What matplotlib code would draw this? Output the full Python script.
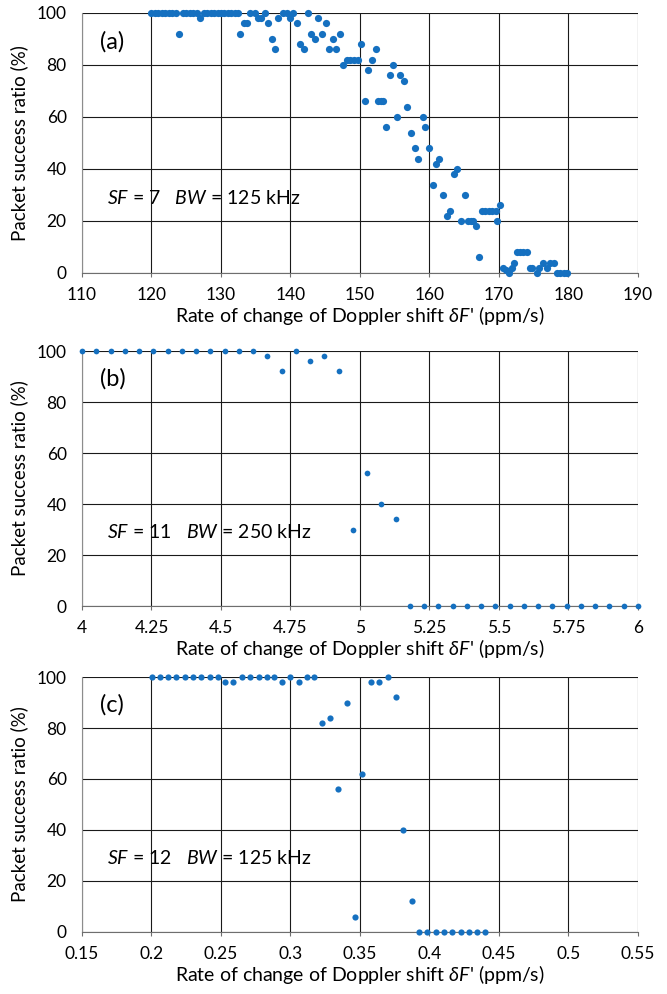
import matplotlib
matplotlib.use("Agg")
import matplotlib.pyplot as plt

plt.rcParams['font.family'] = ['Lato', 'DejaVu Sans']
plt.rcParams['mathtext.fontset'] = 'custom'
plt.rcParams['mathtext.rm'] = 'Lato'
plt.rcParams['mathtext.it'] = 'Lato:italic'
plt.rcParams['mathtext.fallback'] = 'stixsans'

# (a) SF = 7, BW = 125 kHz
x_a = [120.0, 120.5, 121.0, 121.5, 122.0, 122.5, 123.0, 123.5, 124.0, 124.5,
       125.0, 125.5, 126.0, 126.5, 127.0, 127.5, 128.0, 128.5, 129.0, 129.5,
       130.0, 130.5, 131.0, 131.5, 132.0, 132.5,
       132.7, 133.3, 133.8, 134.2, 134.9, 135.3, 135.8, 136.3, 136.8, 137.3,
       137.8, 138.2, 138.9, 139.5, 139.9, 140.3, 141.0, 141.4, 142.0, 142.5,
       143.0, 143.5, 144.0, 144.5, 145.1, 145.6, 146.1, 146.6, 147.1, 147.6,
       148.1, 148.6, 149.1, 149.7, 150.2, 150.7, 151.2, 151.7, 152.3, 152.6,
       153.0, 153.3, 153.7, 154.3, 154.8, 155.3, 155.7, 156.3, 156.8, 157.3,
       157.9, 158.4, 159.0, 159.4, 159.9, 160.5, 160.9, 161.4, 162.0, 162.5,
       163.0, 163.5, 164.0, 164.6, 165.1, 165.6, 166.0, 166.3, 166.7, 167.1,
       167.5, 168.0, 168.5, 169.0, 169.5, 169.7, 170.2, 170.6, 171.0, 171.4,
       171.9, 172.2, 172.6, 173.0, 173.5, 174.0, 174.4, 174.7, 175.4, 175.8,
       176.4, 176.9, 177.3, 177.9, 178.3, 178.8, 179.3, 179.8]
y_a = [100, 100, 100, 100, 100, 100, 100, 100, 92, 100,
       100, 100, 100, 100, 98, 100, 100, 100, 100, 100,
       100, 100, 100, 100, 100, 100,
       92, 96, 96, 100, 100, 98, 98, 100, 96, 90,
       86, 98, 100, 100, 98, 100, 96, 88, 86, 100,
       92, 90, 98, 92, 96, 86, 90, 86, 92, 80,
       82, 82, 82, 82, 88, 66, 78, 82, 86, 66,
       66, 66, 56, 76, 80, 60, 76, 74, 64, 54,
       48, 44, 60, 56, 48, 34, 42, 44, 30, 22,
       24, 38, 40, 20, 30, 20, 20, 20, 18, 6,
       24, 24, 24, 24, 24, 20, 26, 2, 1, 0,
       2, 4, 8, 8, 8, 8, 2, 2, 0, 2,
       4, 2, 4, 4, 0, 0, 0, 0]

# (b) SF = 11, BW = 250 kHz
x_b = [4.000, 4.051, 4.103, 4.154, 4.205, 4.256, 4.308, 4.359, 4.410, 4.462,
       4.513, 4.564, 4.615, 4.667, 4.718, 4.769, 4.821, 4.872, 4.923, 4.974,
       5.026, 5.077, 5.128, 5.179, 5.231, 5.282, 5.333, 5.385, 5.436, 5.487,
       5.538, 5.590, 5.641, 5.692, 5.744, 5.795, 5.846, 5.897, 5.949, 6.000]
y_b = [100, 100, 100, 100, 100, 100, 100, 100, 100, 100,
       100, 100, 100, 98, 92, 100, 96, 98, 92, 30,
       52, 40, 34, 0, 0, 0, 0, 0, 0, 0,
       0, 0, 0, 0, 0, 0, 0, 0, 0, 0]

# (c) SF = 12, BW = 125 kHz
x_c = [0.2005, 0.2060, 0.2119, 0.2179, 0.2239, 0.2299, 0.2358, 0.2418, 0.2478, 0.2531,
       0.2590, 0.2650, 0.2710, 0.2770, 0.2830, 0.2885, 0.2940, 0.2997, 0.3059, 0.3116,
       0.3171, 0.3226, 0.3286, 0.3344, 0.3404, 0.3466, 0.3518, 0.3578, 0.3638, 0.3698,
       0.3757, 0.3812, 0.3872, 0.3925, 0.3985, 0.4045, 0.4105, 0.4164, 0.4224, 0.4284,
       0.4344, 0.4397]
y_c = [100, 100, 100, 100, 100, 100, 100, 100, 100, 98,
       98, 100, 100, 100, 100, 100, 98, 100, 98, 100,
       100, 82, 84, 56, 90, 6, 62, 98, 98, 100,
       92, 40, 12, 0, 0, 0, 0, 0, 0, 0,
       0, 0]

ticks_a = [110, 120, 130, 140, 150, 160, 170, 180, 190]
labels_a = ['110', '120', '130', '140', '150', '160', '170', '180', '190']
ticks_b = [4, 4.25, 4.5, 4.75, 5, 5.25, 5.5, 5.75, 6]
labels_b = ['4', '4.25', '4.5', '4.75', '5', '5.25', '5.5', '5.75', '6']
ticks_c = [0.15, 0.2, 0.25, 0.3, 0.35, 0.4, 0.45, 0.5, 0.55]
labels_c = ['0.15', '0.2', '0.25', '0.3', '0.35', '0.4', '0.45', '0.5', '0.55']
y_ticks = [0, 20, 40, 60, 80, 100]

panels = [
    ([0.1229, 0.7254, 0.8336, 0.2616], x_a, y_a, ticks_a, labels_a, '(a)', r'$SF$ = 7   $BW$ = 125 kHz', 27),
    ([0.1229, 0.3903, 0.8336, 0.2565], x_b, y_b, ticks_b, labels_b, '(b)', r'$SF$ = 11   $BW$ = 250 kHz', 17),
    ([0.1229, 0.0624, 0.8336, 0.2565], x_c, y_c, ticks_c, labels_c, '(c)', r'$SF$ = 12   $BW$ = 125 kHz', 20),
]

blue = '#1570c0'
fig = plt.figure(figsize=(6.67, 9.94), dpi=100)

for rect, xs, ys, xt, xl, tag, note, msize in panels:
    ax = fig.add_axes(rect)
    ax.scatter(xs, ys, s=msize, color=blue, linewidths=0, zorder=3, clip_on=False)
    ax.set_xlim(xt[0], xt[-1])
    ax.set_ylim(0, 100)
    ax.set_xticks(xt)
    ax.set_xticklabels(xl)
    ax.set_yticks(y_ticks)
    ax.grid(True, color='#1a1a1a', linewidth=0.8)
    ax.set_axisbelow(True)
    for side in ['top', 'right']:
        ax.spines[side].set_visible(False)
    ax.spines['left'].set_color('#8c8c8c')
    ax.spines['bottom'].set_color('#6e6e6e')
    ax.tick_params(axis='y', length=0, pad=11, labelsize=12.5)
    ax.tick_params(axis='x', length=3, pad=7, labelsize=12.5, color='#6e6e6e')
    ax.set_ylabel('Packet success ratio (%)', fontsize=13.5)
    ax.yaxis.set_label_coords(-0.096, 0.5)
    ax.set_xlabel(r"Rate of change of Doppler shift $\delta F$'" + " (ppm/s)", fontsize=14, labelpad=1)
    ax.text(0.032, 0.89, tag, transform=ax.transAxes, fontsize=17, va='center', ha='left')
    ax.text(0.045, 0.29, note, transform=ax.transAxes, fontsize=14, va='center', ha='left')

fig.savefig('out.png', dpi=100, facecolor='white')
